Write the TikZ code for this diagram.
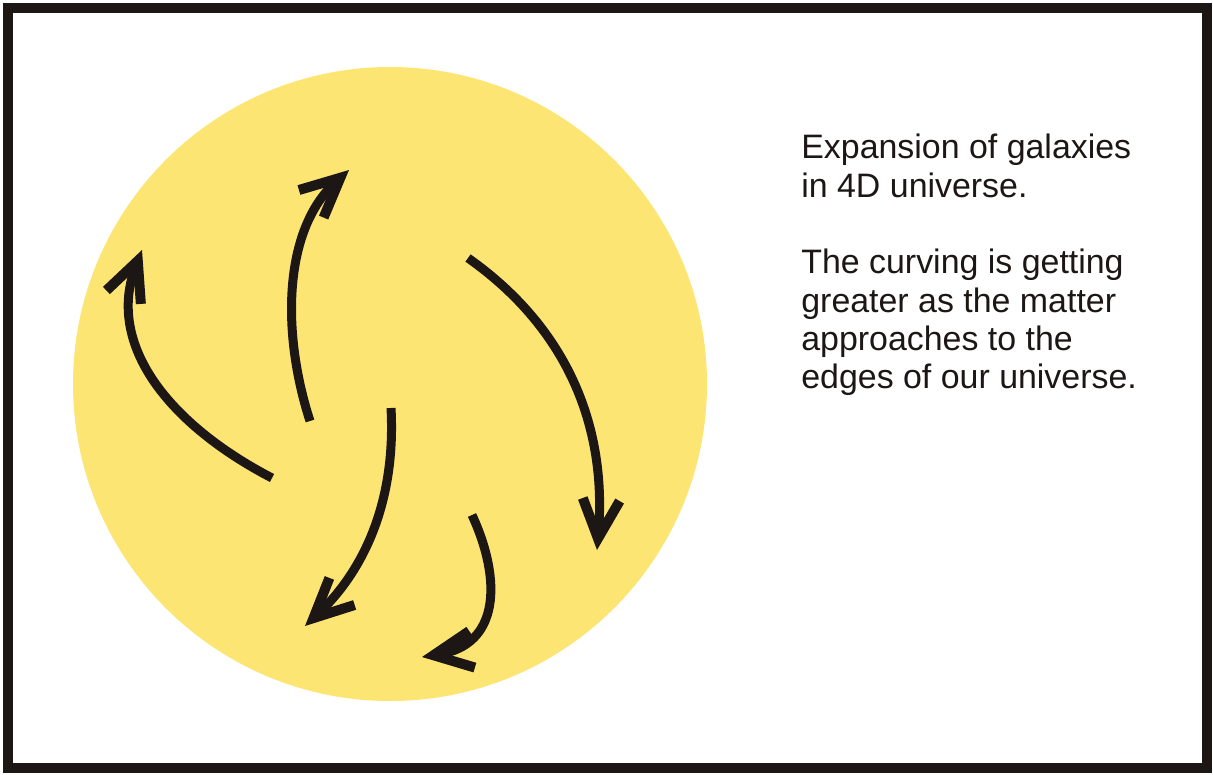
\documentclass[tikz,border=0pt]{standalone}
\usepackage{fontspec}
\setmainfont{Liberation Sans}
\usetikzlibrary{arrows.meta}
\definecolor{sunyellow}{RGB}{252,229,115}
\definecolor{inkdark}{RGB}{28,22,20}
\begin{document}
\begin{tikzpicture}[x=0.02cm,y=-0.02cm,line cap=butt,line join=miter,
  flow/.style={line width=0.18cm,draw=inkdark,
    -{Straight Barb[sharp,length=0.78cm,width=0.74cm,line width=0.2cm 0]}}]
  \useasboundingbox (0,0) rectangle (1213,774);
  \draw[line width=0.2cm,draw=inkdark] (8,8) rectangle (1207,768);
  \fill[sunyellow] (390,384) circle[radius=317*0.02cm];
  % the five galaxy paths
  \draw[flow] (272,478) .. controls (170,425) and (105,345) .. (142,250);
  \draw[flow] (310,421) .. controls (282,335) and (282,230) .. (349,170);
  \draw[flow] (468,258) .. controls (570,330) and (607,430) .. (597,550);
  \draw[flow] (391,408) .. controls (396,500) and (365,570) .. (305,626);
  \draw[flow] (472,515) .. controls (502,580) and (500,645) .. (422,657);
  \node[anchor=north west,inner sep=0pt,align=left,text=inkdark,
    font=\fontsize{19.3}{21.8}\selectfont] (caption) at (801,134)
    {Expansion of galaxies\\in 4D universe.\\[21.8pt]The curving is getting\\greater as the matter\\approaches to the\\edges of our universe.};
\end{tikzpicture}
\end{document}
